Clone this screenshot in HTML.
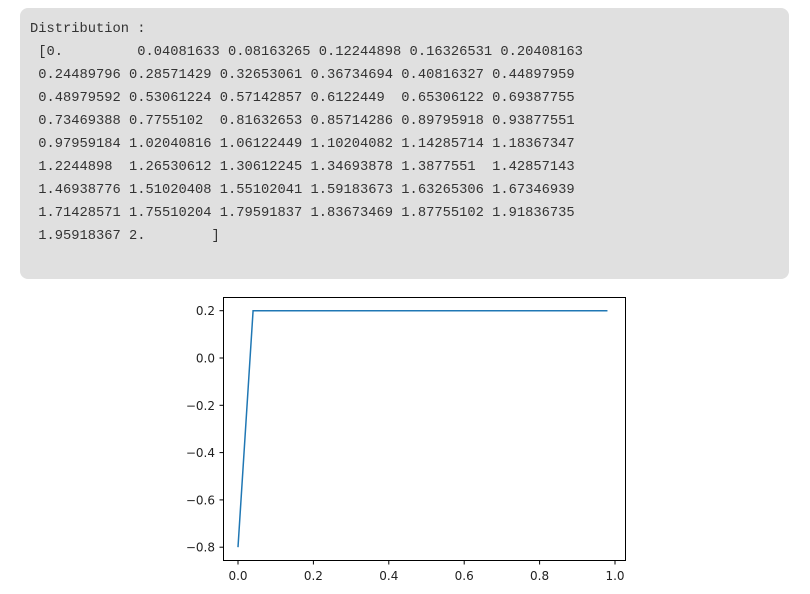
<!DOCTYPE html>
<html><head><meta charset="utf-8"><style>
body{margin:0;width:810px;height:594px;background:#fff;position:relative;overflow:hidden}
#out{position:absolute;left:20px;top:8px;width:769px;height:271px;background:#e0e0e0;border-radius:8px}
pre{margin:0;position:absolute;left:10px;top:10px;font-family:"Liberation Mono",monospace;font-size:13.75px;line-height:23px;color:#333}
svg{position:absolute;left:0;top:0}
</style></head><body>
<div id="out"><pre>Distribution :
 [0.         0.04081633 0.08163265 0.12244898 0.16326531 0.20408163
 0.24489796 0.28571429 0.32653061 0.36734694 0.40816327 0.44897959
 0.48979592 0.53061224 0.57142857 0.6122449  0.65306122 0.69387755
 0.73469388 0.7755102  0.81632653 0.85714286 0.89795918 0.93877551
 0.97959184 1.02040816 1.06122449 1.10204082 1.14285714 1.18367347
 1.2244898  1.26530612 1.30612245 1.34693878 1.3877551  1.42857143
 1.46938776 1.51020408 1.55102041 1.59183673 1.63265306 1.67346939
 1.71428571 1.75510204 1.79591837 1.83673469 1.87755102 1.91836735
 1.95918367 2.        ]</pre></div>
<svg id="chart" width="810" height="594"></svg>
<script>
const xTicks=[0,0.2,0.4,0.6,0.8,1.0];
const xLabels=["0.0","0.2","0.4","0.6","0.8","1.0"];
const yTicks=[0.2,0,-0.2,-0.4,-0.6,-0.8];
const yLabels=["0.2","0.0","\u22120.2","\u22120.4","\u22120.6","\u22120.8"];
const xs=[0,0.04,0.98];
const ys=[-0.8,0.2,0.2];
const NS="http://www.w3.org/2000/svg";
const svg=document.getElementById('chart');
const X=v=>238+v*377, Y=v=>358-v*236.5;
function mk(t,a){const e=document.createElementNS(NS,t);for(const k in a)e.setAttribute(k,a[k]);svg.appendChild(e);return e;}
const frame=mk('rect',{x:223.5,y:297.5,width:402,height:263,fill:'none',stroke:'#000','stroke-width':1});


xTicks.forEach((v,i)=>{
 const t=mk('line',{x1:X(v),x2:X(v),y1:561,y2:564.5,stroke:'#000'});
 
 
 const l=mk('text',{x:X(v),y:580,'text-anchor':'middle','font-family':'DejaVu Sans, sans-serif','font-size':12,fill:'#222'});
 l.textContent=xLabels[i];
 
 
});
yTicks.forEach((v,i)=>{
 const t=mk('line',{x1:219.5,x2:223,y1:Y(v),y2:Y(v),stroke:'#000'});
 
 
 const l=mk('text',{x:215,y:Y(v)+4.5,'text-anchor':'end','font-family':'DejaVu Sans, sans-serif','font-size':12,fill:'#222'});
 l.textContent=yLabels[i];
 
 
});
const p=mk('polyline',{points:xs.map((x,i)=>X(x)+','+Y(ys[i])).join(' '),fill:'none',stroke:'#1f77b4','stroke-width':1.5});


</script>
</body></html>
